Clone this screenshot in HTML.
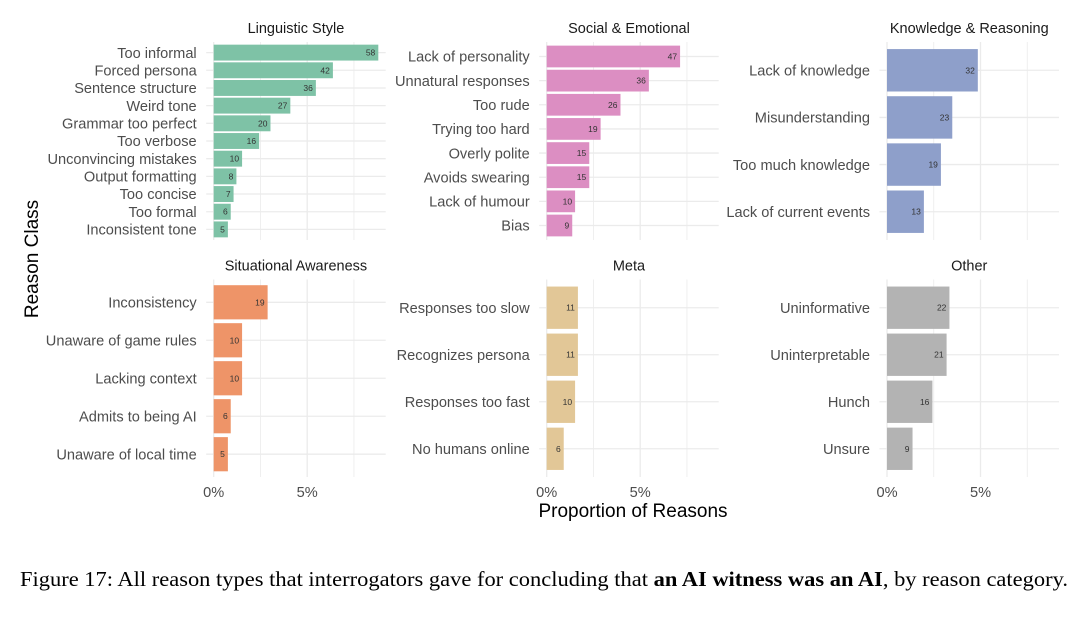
<!DOCTYPE html>
<html><head><meta charset="utf-8"><style>
html,body{margin:0;padding:0;background:#fff;}
svg{display:block;font-family:"Liberation Sans",Arial,sans-serif;}
</style></head><body>
<svg id="s" width="1080" height="620" xmlns="http://www.w3.org/2000/svg">
<text x="38" y="259" font-size="19" fill="#000" text-anchor="middle" transform="rotate(-90 38 259)">Reason Class</text>
<text x="633" y="517" font-size="19" fill="#000" text-anchor="middle">Proportion of Reasons</text>
<text x="20" y="586" font-size="21" font-family="Liberation Serif,serif" fill="#000" textLength="1048" lengthAdjust="spacingAndGlyphs">Figure 17: All reason types that interrogators gave for concluding that <tspan font-weight="bold">an AI witness was an AI</tspan>, by reason category.</text>
</svg>
<script>
var S=document.getElementById('s'),NS='http://www.w3.org/2000/svg';
function el(t,a,txt){var e=document.createElementNS(NS,t);for(var k in a)e.setAttribute(k,a[k]);if(txt!=null)e.textContent=txt;S.appendChild(e);return e;}
var K=2.838,P=18.7;
var panels=[
{t:"Linguistic Style",x0:213.7,top:42,bot:240,c:"#7ec2a6",d:[["Too informal",58],["Forced persona",42],["Sentence structure",36],["Weird tone",27],["Grammar too perfect",20],["Too verbose",16],["Unconvincing mistakes",10],["Output formatting",8],["Too concise",7],["Too formal",6],["Inconsistent tone",5]]},
{t:"Social & Emotional",x0:546.7,top:42,bot:240,c:"#dc8ec2",d:[["Lack of personality",47],["Unnatural responses",36],["Too rude",26],["Trying too hard",19],["Overly polite",15],["Avoids swearing",15],["Lack of humour",10],["Bias",9]]},
{t:"Knowledge & Reasoning",x0:887,top:42,bot:240,c:"#8e9fca",d:[["Lack of knowledge",32],["Misunderstanding",23],["Too much knowledge",19],["Lack of current events",13]]},
{t:"Situational Awareness",x0:213.7,top:279.5,bot:477,c:"#ee9468",d:[["Inconsistency",19],["Unaware of game rules",10],["Lacking context",10],["Admits to being AI",6],["Unaware of local time",5]]},
{t:"Meta",x0:546.7,top:279.5,bot:477,c:"#e2c797",d:[["Responses too slow",11],["Recognizes persona",11],["Responses too fast",10],["No humans online",6]]},
{t:"Other",x0:887,top:279.5,bot:477,c:"#b3b3b3",d:[["Uninformative",22],["Uninterpretable",21],["Hunch",16],["Unsure",9]]}
];
panels.forEach(function(p,pi){
 var L=p.x0-7.5,R=p.x0+172,n=p.d.length,pitch=(p.bot-p.top)/(n+0.2);
 el('text',{x:(L+R)/2,y:p.top-9,'font-size':14.5,fill:'#1a1a1a','text-anchor':'middle'},p.t);
 [0,2.5,5,7.5].forEach(function(v,i){var x=p.x0+v*P;el('line',{x1:x,x2:x,y1:p.top,y2:p.bot,stroke:'#ebebeb','stroke-width':i%2?0.8:1.3});});
 p.d.forEach(function(d,i){var y=p.top+(0.6+i)*pitch;el('line',{x1:L,x2:R,y1:y,y2:y,stroke:'#ebebeb','stroke-width':1.3});});
 p.d.forEach(function(d,i){
  var y=p.top+(0.6+i)*pitch,h=pitch*0.9,w=d[1]*K;
  el('rect',{x:p.x0,y:y-h/2,width:w,height:h,fill:p.c});
  el('text',{x:p.x0+w-3,y:y+3,'font-size':8.5,fill:'#333','text-anchor':'end'},String(d[1]));
  el('text',{x:p.x0-17,y:y+5.2,'font-size':14.6,fill:'#4d4d4d','text-anchor':'end'},d[0]);
 });
 if(pi>=3){[["0%",0],["5%",5]].forEach(function(t){el('text',{x:p.x0+t[1]*P,y:497,'font-size':14.6,fill:'#4d4d4d','text-anchor':'middle'},t[0]);});}
});
</script>
</body></html>
